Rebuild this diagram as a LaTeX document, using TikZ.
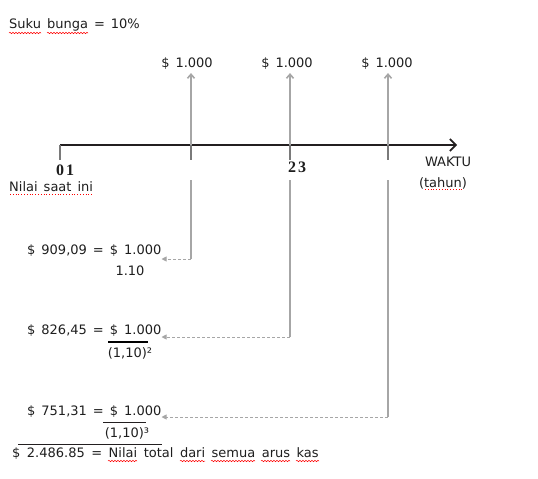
\documentclass[tikz,border=0pt]{standalone}
\usepackage{fontspec}
\setmainfont{DejaVu Sans}
\newfontfamily\yearfont{Liberation Serif}
\usetikzlibrary{arrows.meta,decorations.pathmorphing}
\definecolor{axisblack}{HTML}{231F20}
\definecolor{flowgray}{HTML}{A6A6A6}
\definecolor{tickgray}{HTML}{7A7A7A}
\definecolor{textdark}{HTML}{1E1E1E}
\tikzset{
  every node/.style={font=\fontsize{13}{15}\selectfont, inner sep=0pt, text=textdark,
    execute at begin node={\spaceskip=6pt\relax}},
  wide/.style={execute at begin node={\spaceskip=6.5pt\relax}},
  year/.style={font=\yearfont\bfseries\fontsize{16}{18}\selectfont},
  axis/.style={draw=axisblack, line width=1.6pt, -{Straight Barb[length=6pt,width=12pt]}},
  tick/.style={draw=tickgray, line width=2.6pt},
  flow/.style={draw=flowgray, line width=1.6pt, -{Straight Barb[length=4pt,width=7pt]}},
  drop/.style={draw=flowgray, line width=1.6pt},
  back/.style={draw=flowgray, line width=0.8pt, dash pattern=on 3pt off 2pt, -{Triangle[length=5pt,width=5pt]}},
  fracbar/.style={draw=black, line width=1.6pt},
  sumbar/.style={draw=axisblack, line width=0.8pt},
  squig/.style={draw=red, line width=0.5pt, decorate, decoration={snake, amplitude=0.7pt, segment length=3pt}},
  dots/.style={draw=red, line width=0.6pt, dash pattern=on 0.8pt off 2pt}
}
\begin{document}
\begin{tikzpicture}[x=1pt,y=-1pt]
\useasboundingbox (0,0) rectangle (538,479);
% rate
\node[anchor=west] (rate) at (9,25) {Suku bunga = 10\%};
% cash flows
\node (c1) at (187,64) {\$ 1.000};
\node (c2) at (287,64) {\$ 1.000};
\node (c3) at (387,64) {\$ 1.000};
% time line
\coordinate (t0) at (60,145);
\coordinate (t1) at (191,145);
\coordinate (t2) at (290,145);
\coordinate (t3) at (388,145);
\coordinate (tend) at (457,145);
\draw[axis] (t0) -- (tend);
\foreach \t in {t0,t1,t2,t3} \draw[tick] (\t) -- ++(0,15);
\foreach \n in {1,2,3} \draw[flow] (t\n) -- ([yshift=-3pt]t\n |- c\n.south);
\node[year] (y0) at (65,170) {0\kern2pt1};
\node[year] (y2) at (297,167) {2\kern2pt3};
\node[anchor=west] (now) at (9,187) {Nilai saat ini};
\node (waktu) at (448,162) {WAKTU};
\node (tahun) at (443,183) {(tahun)};
% present values
\node[anchor=west] (pv1) at (27,251) {\$ 909,09 = \$ 1.000};
\node (f1) at (130,271) {1.10};
\node[anchor=west] (pv2) at (27,331) {\$ 826,45 = \$ 1.000};
\node (f2) at (130,353) {(1,10)²};
\node[anchor=west] (pv3) at (27,412) {\$ 751,31 = \$ 1.000};
\node (f3) at (127,433) {(1,10)³};
\node[wide, anchor=west] (sum) at (12,454) {\$ 2.486.85 = Nilai total dari semua arus kas};
% discounting back
\coordinate (k1) at (191,259);
\coordinate (k2) at (290,337);
\coordinate (k3) at (388,417);
\foreach \n in {1,2,3} {
  \draw[drop] ([yshift=-35pt]t\n) -- (k\n);
  \draw[back] (k\n) -- (pv\n.east |- k\n);
}
\draw[fracbar] (108,342) -- (148,342);
\draw[sumbar] (103,422) -- (146,422);
\draw[sumbar] (18,444) -- (162,444);
% spelling marks
\draw[squig] (9,33) -- (41,33);
\draw[squig] (47,33) -- (88,33);
\draw[squig] (108,461) -- (137,461);
\draw[squig] (180,461) -- (205,461);
\draw[squig] (211,461) -- (255,461);
\draw[squig] (261,461) -- (290,461);
\draw[squig] (296,461) -- (319,461);
\draw[dots] (10,194) -- (93,194);
\draw[dots] (425,189) -- (462,189);
\end{tikzpicture}
\end{document}
